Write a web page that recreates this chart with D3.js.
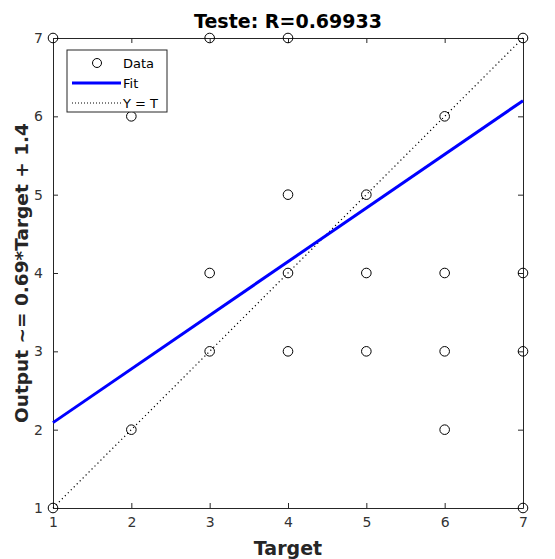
<!DOCTYPE html>
<html><head><meta charset="utf-8">
<script src="https://cdn.jsdelivr.net/npm/d3@7"></script>
<style>body{margin:0;background:#fff}svg{display:block}text{font-family:"DejaVu Sans",sans-serif}</style>
</head><body><svg id="c" width="555" height="559"></svg>
<script>
const targets = [1,3,4,7,2,6,4,5,3,4,5,6,7,3,4,5,6,7,2,6,1,7];
const outputs = [7,7,7,7,6,6,5,5,4,4,4,4,4,3,3,3,3,3,2,2,1,1];
const fitSlope = 0.685, fitIntercept = 1.405;
const ticks = [1,2,3,4,5,6,7];
const title = "Teste: R=0.69933";
const xLabel = "Target";
const yLabel = "Output ~= 0.69*Target + 1.4";
const legendItems = ["Data","Fit","Y = T"];

const svg = d3.select("#c");
const L=53,R=523,T=38,B=508;
const x = d3.scaleLinear().domain([1,7]).range([L,R]);
const y = d3.scaleLinear().domain([1,7]).range([B,T]);
const axCol="#262626";
const fmt=d3.format("d");

const tl=5;
const xb = svg.append("g").attr("transform",`translate(0,${B})`).call(d3.axisBottom(x).tickValues(ticks).tickFormat(fmt).tickSizeInner(-tl).tickSizeOuter(0).tickPadding(9));
const xt = svg.append("g").attr("transform",`translate(0,${T})`).call(d3.axisTop(x).tickValues(ticks).tickSizeInner(-tl).tickSizeOuter(0).tickFormat(""));
const yl = svg.append("g").attr("transform",`translate(${L},0)`).call(d3.axisLeft(y).tickValues(ticks).tickFormat(fmt).tickSizeInner(-tl).tickSizeOuter(0).tickPadding(10));
const yr = svg.append("g").attr("transform",`translate(${R},0)`).call(d3.axisRight(y).tickValues(ticks).tickSizeInner(-tl).tickSizeOuter(0).tickFormat(""));
[xb,xt,yl,yr].forEach(g=>{g.selectAll("path").attr("stroke",axCol).attr("stroke-width",1);g.selectAll("line").attr("stroke",axCol);g.selectAll("text").attr("fill","#333").style("font-size","14px").style("font-family","DejaVu Sans");});

svg.append("line").attr("x1",x(1)).attr("y1",y(1)).attr("x2",x(7)).attr("y2",y(7))
  .attr("stroke","#000").attr("stroke-width",1.2).attr("stroke-dasharray","1.2,3");
svg.append("line").attr("x1",x(1)).attr("y1",y(fitSlope*1+fitIntercept)).attr("x2",x(7)).attr("y2",y(fitSlope*7+fitIntercept))
  .attr("stroke","#0000ff").attr("stroke-width",3);
svg.append("g").selectAll("circle").data(targets.map((t,i)=>[t,outputs[i]])).join("circle")
  .attr("cx",d=>x(d[0])).attr("cy",d=>y(d[1])).attr("r",4.8)
  .attr("fill","none").attr("stroke","#000").attr("stroke-width",1);

svg.append("text").attr("x",(L+R)/2).attr("y",28).attr("text-anchor","middle").attr("font-weight","bold").style("font-size","19px").attr("fill","#000").text(title);
svg.append("text").attr("x",(L+R)/2).attr("y",555).attr("text-anchor","middle").attr("font-weight","bold").style("font-size","19px").attr("fill","#262626").text(xLabel);
svg.append("text").attr("transform",`translate(28,${(T+B)/2}) rotate(-90)`).attr("text-anchor","middle").attr("font-weight","bold").style("font-size","18.5px").attr("fill","#262626").text(yLabel);

const lg = svg.append("g");
lg.append("rect").attr("x",67).attr("y",50).attr("width",100).attr("height",62).attr("fill","#fff").attr("stroke","#262626").attr("stroke-width",1);
const rows=[63,83,103];
lg.append("circle").attr("cx",97).attr("cy",rows[0]).attr("r",4.5).attr("fill","none").attr("stroke","#000");
lg.append("line").attr("x1",72).attr("x2",121).attr("y1",rows[1]).attr("y2",rows[1]).attr("stroke","#0000ff").attr("stroke-width",3);
lg.append("line").attr("x1",72).attr("x2",121).attr("y1",rows[2]).attr("y2",rows[2]).attr("stroke","#000").attr("stroke-width",1).attr("stroke-dasharray","1,2");
legendItems.forEach((t,i)=>lg.append("text").attr("x",123).attr("y",rows[i]+5).style("font-size","13px").attr("fill","#000").text(t));
</script></body></html>
